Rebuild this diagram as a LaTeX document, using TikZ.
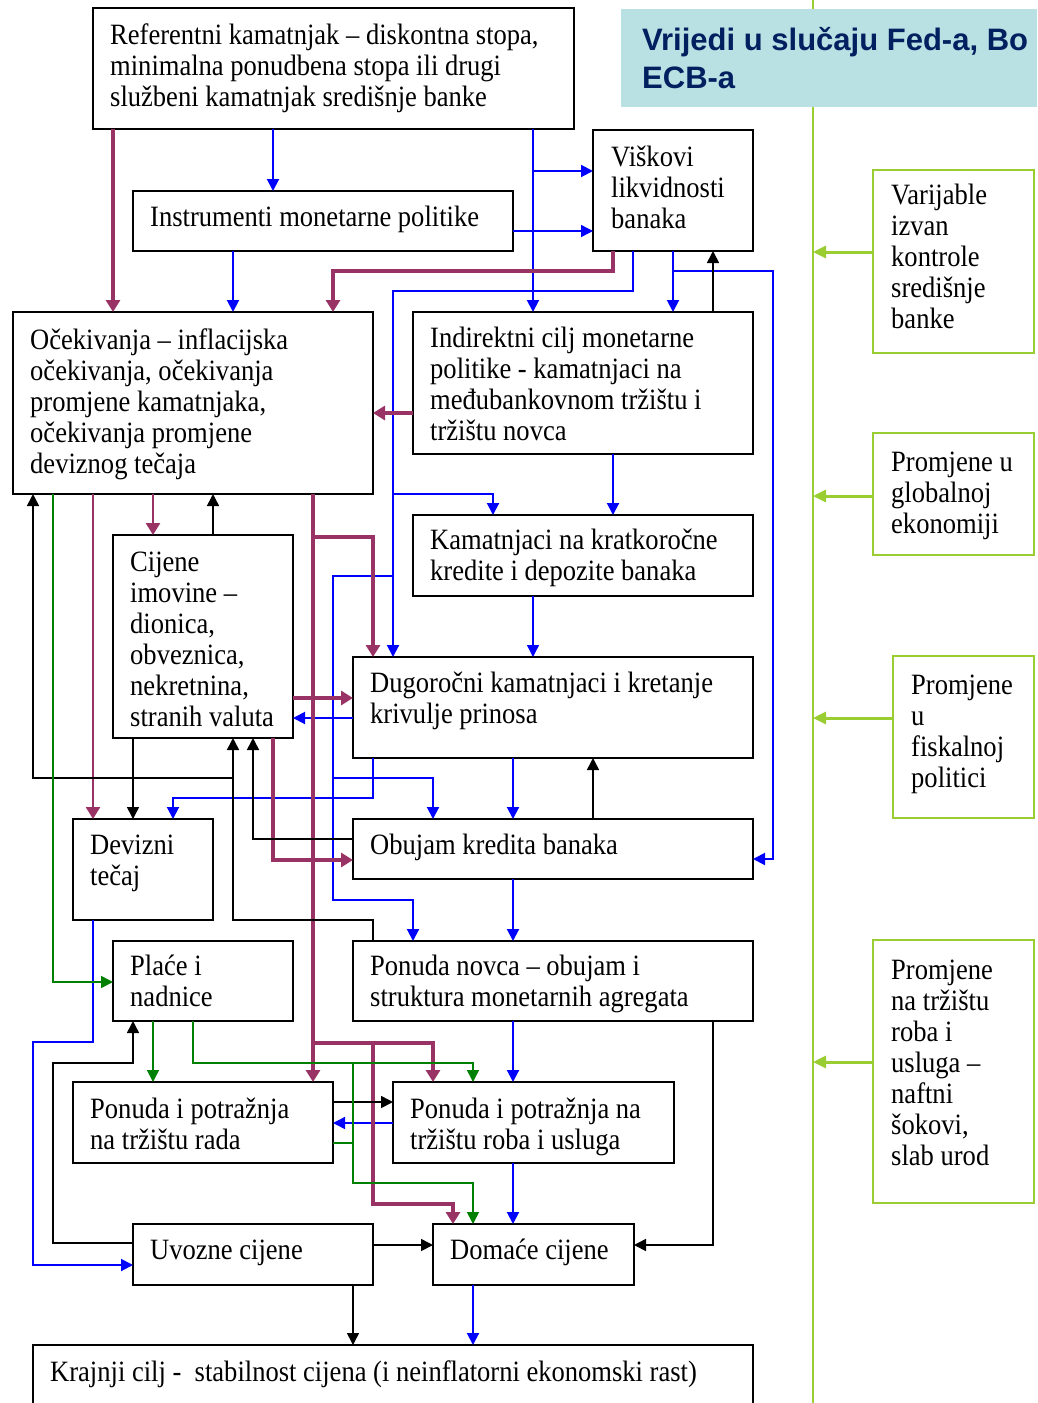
\documentclass[tikz,border=0pt]{standalone}
\usepackage{fontspec}
\setmainfont{Liberation Serif}[FakeStretch=0.9]
\newfontfamily\headfont{Liberation Sans}
\usetikzlibrary{arrows.meta}
\definecolor{cpurple}{RGB}{153,51,102}
\definecolor{cbluec}{RGB}{0,0,255}
\definecolor{cgreenc}{RGB}{0,128,0}
\definecolor{climec}{RGB}{154,205,50}
\definecolor{headfill}{RGB}{185,224,226}
\definecolor{navy}{RGB}{0,32,96}
\newcommand\fl{\rule{0pt}{24pt}}
\newcommand\hfl{\rule{0pt}{25pt}}
\begin{document}
\begin{tikzpicture}[x=1pt,y=-1pt,
 box/.style={draw=black, line width=2pt, fill=white, anchor=north west, inner sep=0pt, outer sep=0pt},
 lbox/.style={draw=climec, line width=2.5pt, fill=white, anchor=north west, inner sep=0pt, outer sep=0pt},
 txt/.style={anchor=north west, inner sep=0pt, align=left, font=\fontsize{29.5}{31}\selectfont},
 arr/.style={-{Triangle[length=12pt,width=12pt]}},
 parr/.style={-{Triangle[length=12pt,width=14pt]}},
 cblue/.style={draw=cbluec, line width=2pt, arr},
 cbluethin/.style={draw=cbluec, line width=1.4pt, arr},
 cpur/.style={draw=cpurple, line width=3.5pt, parr},
 cpurm/.style={draw=cpurple, line width=2.6pt, parr},
 cblack/.style={draw=black, line width=1.6pt, arr},
 cgreen/.style={draw=cgreenc, line width=1.6pt, arr},
 cgreenplain/.style={draw=cgreenc, line width=1.6pt},
 clime/.style={draw=climec, line width=3pt, -{Triangle[length=13pt,width=12pt]}}
]
\useasboundingbox (0,0) rectangle (1037,1403);
\fill[white] (0,0) rectangle (1037,1403);

% right side: vertical line and header
\coordinate (ltop) at (813,0);
\coordinate (lbot) at (813,1403);
\draw[climec, line width=2.2pt] (ltop) -- (lbot);
\node[fill=headfill, anchor=north west, minimum width=416pt, minimum height=98pt, inner sep=0pt, outer sep=0pt] (head) at (621,9) {};
\node[anchor=north west, inner sep=0pt, align=left, text=navy, font=\headfont\bfseries\fontsize{31}{38}\selectfont] (head-t) at (642,25) {\hfl Vrijedi u slučaju Fed-a, Bo\\ECB-a};

% boxes
\node[box, minimum width=481pt, minimum height=121pt] (ref) at (93,8) {};
\node[box, minimum width=380pt, minimum height=60pt] (instr) at (133,191) {};
\node[box, minimum width=160pt, minimum height=121pt] (visk) at (593,130) {};
\node[box, minimum width=360pt, minimum height=182pt] (ocek) at (13,312) {};
\node[box, minimum width=340pt, minimum height=142pt] (indir) at (413,312) {};
\node[box, minimum width=340pt, minimum height=81pt] (kam) at (413,515) {};
\node[box, minimum width=180pt, minimum height=203pt] (cij) at (113,535) {};
\node[box, minimum width=400pt, minimum height=101pt] (dug) at (353,657) {};
\node[box, minimum width=140pt, minimum height=101pt] (dev) at (73,819) {};
\node[box, minimum width=400pt, minimum height=60pt] (obu) at (353,819) {};
\node[box, minimum width=180pt, minimum height=80pt] (place) at (113,941) {};
\node[box, minimum width=400pt, minimum height=80pt] (pnov) at (353,941) {};
\node[box, minimum width=260pt, minimum height=81pt] (prad) at (73,1082) {};
\node[box, minimum width=281pt, minimum height=81pt] (proba) at (393,1082) {};
\node[box, minimum width=240pt, minimum height=61pt] (uvoz) at (133,1224) {};
\node[box, minimum width=201pt, minimum height=61pt] (dom) at (433,1224) {};
\node[box, minimum width=720pt, minimum height=62pt] (kraj) at (33,1345) {};
\node[lbox, minimum width=161pt, minimum height=183pt] (var) at (873,170) {};
\node[lbox, minimum width=161pt, minimum height=122pt] (glob) at (873,433) {};
\node[lbox, minimum width=141pt, minimum height=162pt] (fisk) at (893,656) {};
\node[lbox, minimum width=161pt, minimum height=263pt] (trz) at (873,940) {};

% texts
\node[txt] (ref-t) at (110,20) {\fl Referentni kamatnjak – diskontna stopa,\\minimalna ponudbena stopa ili drugi\\službeni kamatnjak središnje banke};
\node[txt] (instr-t) at (150,202) {\fl Instrumenti monetarne politike};
\node[txt] (visk-t) at (611,142) {\fl Viškovi\\likvidnosti\\banaka};
\node[txt] (ocek-t) at (30,325) {\fl Očekivanja – inflacijska\\očekivanja, očekivanja\\promjene kamatnjaka,\\očekivanja promjene\\deviznog tečaja};
\node[txt] (indir-t) at (430,323) {\fl Indirektni cilj monetarne\\politike - kamatnjaci na\\međubankovnom tržištu i\\tržištu novca};
\node[txt] (kam-t) at (430,525) {\fl Kamatnjaci na kratkoročne\\kredite i depozite banaka};
\node[txt] (cij-t) at (130,547) {\fl Cijene\\imovine –\\dionica,\\obveznica,\\nekretnina,\\stranih valuta};
\node[txt] (dug-t) at (370,668) {\fl Dugoročni kamatnjaci i kretanje\\krivulje prinosa};
\node[txt] (dev-t) at (90,830) {\fl Devizni\\tečaj};
\node[txt] (obu-t) at (370,830) {\fl Obujam kredita banaka};
\node[txt] (place-t) at (130,951) {\fl Plaće i\\nadnice};
\node[txt] (pnov-t) at (370,951) {\fl Ponuda novca – obujam i\\struktura monetarnih agregata};
\node[txt] (prad-t) at (90,1094) {\fl Ponuda i potražnja\\na tržištu rada};
\node[txt] (proba-t) at (410,1094) {\fl Ponuda i potražnja na\\tržištu roba i usluga};
\node[txt] (uvoz-t) at (150,1235) {\fl Uvozne cijene};
\node[txt] (dom-t) at (450,1235) {\fl Domaće cijene};
\node[txt] (kraj-t) at (50,1357) {\fl Krajnji cilj -\ \ stabilnost cijena (i neinflatorni ekonomski rast)};
\node[txt] (var-t) at (891,180) {\fl Varijable\\izvan\\kontrole\\središnje\\banke};
\node[txt] (glob-t) at (891,447) {\fl Promjene u\\globalnoj\\ekonomiji};
\node[txt] (fisk-t) at (911,670) {\fl Promjene\\u\\fiskalnoj\\politici};
\node[txt] (trz-t) at (891,955) {\fl Promjene\\na tržištu\\roba i\\usluga –\\naftni\\šokovi,\\slab urod};

% lime arrows
\draw[clime] (var.west |- 0,252) -- (ltop |- 0,252);
\draw[clime] (glob.west |- 0,496) -- (ltop |- 0,496);
\draw[clime] (fisk.west |- 0,718) -- (ltop |- 0,718);
\draw[clime] (trz.west |- 0,1062) -- (ltop |- 0,1062);

% blue connectors
\draw[cblue] (273,0 |- ref.south) -- (273,0 |- instr.north);
\draw[cblue] (233,0 |- instr.south) -- (233,0 |- ocek.north);
\draw[cblue] (533,0 |- ref.south) -- (533,0 |- indir.north);
\coordinate (j1) at (533,171);
\draw[cblue] (j1) -- (visk.west |- j1);
\draw[cbluethin] (instr.east |- 0,231) -- (visk.west |- 0,231);
\draw[cblue] (633,0 |- visk.south) -- (633,291) -- (393,291) -- (393,0 |- dug.north);
\coordinate (j2) at (393,494);
\draw[cblue] (j2) -- (493,494) -- (493,0 |- kam.north);
\coordinate (j3) at (393,576);
\draw[cblue] (j3) -- (333,576) -- (333,900) -- (413,900) -- (413,0 |- pnov.north);
\coordinate (j4) at (333,778);
\draw[cblue] (j4) -- (433,778) -- (433,0 |- obu.north);
\draw[cblue] (673,0 |- visk.south) -- (673,0 |- indir.north);
\coordinate (j5) at (673,271);
\draw[cblue] (j5) -- (773,271) -- (773,859) -- (obu.east |- 0,859);
\draw[cblue] (613,0 |- indir.south) -- (613,0 |- kam.north);
\draw[cbluethin] (533,0 |- kam.south) -- (533,0 |- dug.north);
\draw[cblue] (dug.west |- 0,718) -- (cij.east |- 0,718);
\draw[cblue] (373,0 |- dug.south) -- (373,798) -- (173,798) -- (173,0 |- dev.north);
\draw[cblue] (513,0 |- dug.south) -- (513,0 |- obu.north);
\draw[cblue] (513,0 |- obu.south) -- (513,0 |- pnov.north);
\draw[cblue] (513,0 |- pnov.south) -- (513,0 |- proba.north);
\draw[cblue] (513,0 |- proba.south) -- (513,0 |- dom.north);
\draw[cblue] (473,0 |- dom.south) -- (473,0 |- kraj.north);
\draw[cbluethin] (proba.west |- 0,1123) -- (prad.east |- 0,1123);
\draw[cblue] (93,0 |- dev.south) -- (93,1042) -- (33,1042) -- (33,1265) -- (uvoz.west |- 0,1265);

% purple connectors
\draw[cpur] (113,0 |- ref.south) -- (113,0 |- ocek.north);
\draw[cpur] (613,0 |- visk.south) -- (613,271) -- (333,271) -- (333,0 |- ocek.north);
\draw[cpur] (indir.west |- 0,413) -- (ocek.east |- 0,413);
\draw[cpur] (313,0 |- ocek.south) -- (313,0 |- prad.north);
\coordinate (p1) at (313,537);
\draw[cpur] (p1) -- (373,537) -- (373,0 |- dug.north);
\coordinate (p2) at (313,1043);
\draw[cpur] (p2) -- (433,1043) -- (433,0 |- proba.north);
\coordinate (p3) at (373,1043);
\draw[cpur] (p3) -- (373,1204) -- (453,1204) -- (453,0 |- dom.north);
\draw[cpurm] (93,0 |- ocek.south) -- (93,0 |- dev.north);
\draw[cpurm] (153,0 |- ocek.south) -- (153,0 |- cij.north);
\draw[cpur] (cij.east |- 0,698) -- (dug.west |- 0,698);
\draw[cpur] (273,0 |- cij.south) -- (273,860) -- (obu.west |- 0,860);

% black connectors
\draw[cblack] (713,0 |- indir.north) -- (713,0 |- visk.south);
\draw[cblack] (213,0 |- cij.north) -- (213,0 |- ocek.south);
\draw[cblack] (373,0 |- pnov.north) -- (373,920) -- (233,920) -- (233,0 |- cij.south);
\coordinate (k1) at (233,778);
\draw[cblack] (k1) -- (33,778) -- (33,0 |- ocek.south);
\draw[cblack] (obu.west |- 0,839) -- (253,839) -- (253,0 |- cij.south);
\draw[cblack] (133,0 |- cij.south) -- (133,0 |- dev.north);
\draw[cblack] (593,0 |- obu.north) -- (593,0 |- dug.south);
\draw[cblack] (713,0 |- pnov.south) -- (713,1245) -- (dom.east |- 0,1245);
\draw[cblack] (prad.east |- 0,1102) -- (proba.west |- 0,1102);
\draw[cblack] (uvoz.east |- 0,1245) -- (dom.west |- 0,1245);
\draw[cblack] (353,0 |- uvoz.south) -- (353,0 |- kraj.north);
\draw[cblack] (uvoz.west |- 0,1243) -- (53,1243) -- (53,1063) -- (133,1063) -- (133,0 |- place.south);

% green connectors
\draw[cgreen] (53,0 |- ocek.south) -- (53,982) -- (place.west |- 0,982);
\draw[cgreen] (153,0 |- place.south) -- (153,0 |- prad.north);
\draw[cgreen] (193,0 |- place.south) -- (193,1063) -- (473,1063) -- (473,0 |- proba.north);
\coordinate (g1) at (353,1063);
\draw[cgreen] (g1) -- (353,1183) -- (473,1183) -- (473,0 |- dom.north);
\draw[cgreenplain] (prad.east |- 0,1143) -- (353,1143);
\end{tikzpicture}
\end{document}
